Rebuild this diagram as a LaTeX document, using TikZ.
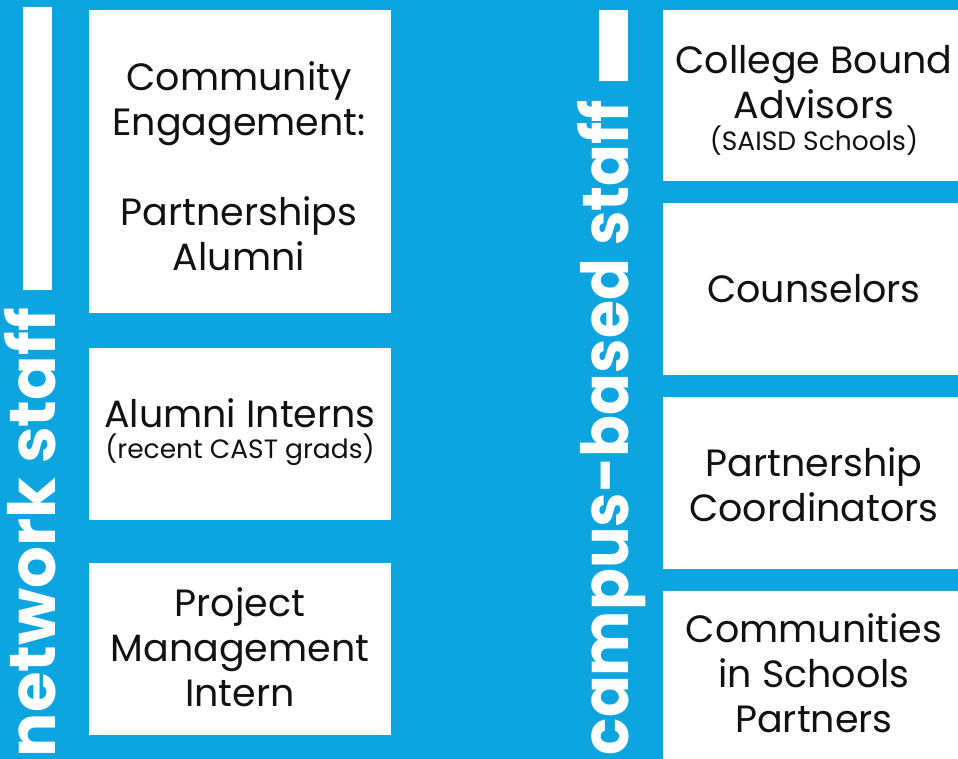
\documentclass[tikz,border=0pt]{standalone}
\usepackage{fontspec}
\usepackage{graphicx}
\setmainfont{Poppins}
\newfontfamily\headfont{Poppins}[UprightFont=* Bold]
\definecolor{castblue}{RGB}{12,165,223}
\definecolor{inktext}{RGB}{17,17,17}
\newcommand{\subnote}[1]{{\fontsize{26.5}{30}\selectfont #1}}
\begin{document}
\begin{tikzpicture}[x=1pt,y=-1pt,
  card/.style={fill=white,draw=none,anchor=north west,inner sep=0pt,minimum width=#1},
  lbl/.style={anchor=base,inner sep=0pt,text=inktext,font=\fontsize{38}{45}\selectfont},
  side/.style={anchor=base east,rotate=90,inner sep=0pt,text=white,font=\headfont\fontsize{65}{70}\selectfont}]
  % canvas
  \fill[castblue] (0,0) rectangle (958,759);
  \useasboundingbox (0,0) rectangle (958,759);

  % column markers
  \fill[white] (23,7) rectangle (52,290);
  \fill[white] (599,10) rectangle (628,81);

  % network staff column
  \node[card=302pt,minimum height=303pt] (ce) at (89,10) {};
  \node[card=302pt,minimum height=172pt] (ai) at (89,348) {};
  \node[card=302pt,minimum height=172pt] (pm) at (89,563) {};

  % campus-based staff column
  \node[card=300pt,minimum height=171pt] (cb) at (663,10) {};
  \node[card=300pt,minimum height=172pt] (co) at (663,203) {};
  \node[card=300pt,minimum height=172pt] (pc) at (663,397) {};
  \node[card=300pt,minimum height=175pt] (cis) at (663,591) {};

  % side headings, stretched to the column length
  \node[side] (net) at (55,308) {\resizebox{449pt}{\height}{network staff}};
  \node[side] (camp) at (628,100) {\resizebox{655pt}{\height}{campus-based staff}};

  % card texts
  \node[lbl] (ceT) at (239,91) {\begin{tabular}[t]{@{}c@{}}Community\\Engagement:\\ \\Partnerships\\Alumni\end{tabular}};
  \node[lbl] (aiT) at (240,427) {\begin{tabular}[t]{@{}c@{}}Alumni Interns\\[-14pt]\subnote{(recent CAST grads)}\end{tabular}};
  \node[lbl] (pmT) at (240,616) {\begin{tabular}[t]{@{}c@{}}Project\\Management\\Intern\end{tabular}};

  \node[lbl] (cbT) at (814,74) {\begin{tabular}[t]{@{}c@{}}College Bound\\Advisors\\[-13pt]\subnote{(SAISD Schools)}\end{tabular}};
  \node[lbl] (coT) at (814,302) {Counselors};
  \node[lbl] (pcT) at (814,476) {\begin{tabular}[t]{@{}c@{}}Partnership\\Coordinators\end{tabular}};
  \node[lbl] (cisT) at (814,642) {\begin{tabular}[t]{@{}c@{}}Communities\\in Schools\\Partners\end{tabular}};
\end{tikzpicture}
\end{document}
